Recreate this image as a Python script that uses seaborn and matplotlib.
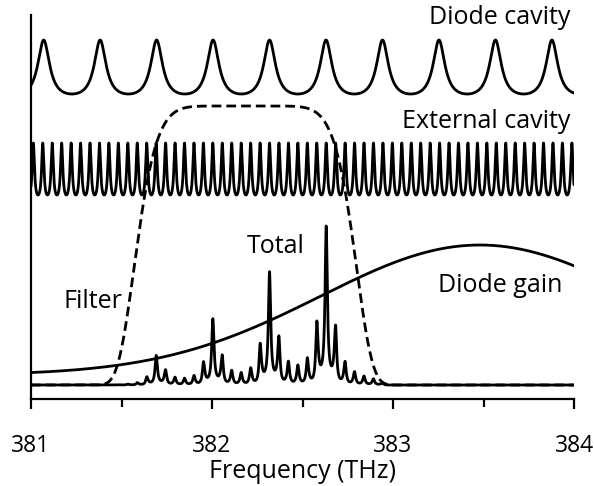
import numpy as np
import pandas as pd
import matplotlib
matplotlib.use("Agg")
import matplotlib.pyplot as plt
from matplotlib.ticker import MultipleLocator
import seaborn as sns

# ---------------- data ----------------
freq_range = [381.0, 384.0]
x_ticks = [381, 382, 383, 384]
x_label = "Frequency (THz)"

# Diode cavity (Airy transmission)
diode_first_peak = 381.07
diode_fsr = 0.312
diode_coef = 6.0

# External cavity (Airy transmission)
ext_first_peak = 381.065
ext_fsr = 0.0522
ext_coef = 4.5

# Filter (flat-top, super-Gaussian)
filter_center = 382.184
filter_halfwidth = 0.626
filter_order = 4

# Diode gain (Gaussian on a floor)
gain_center = 383.48
gain_sigma = 0.88

curve_labels = ["Diode cavity", "External cavity", "Filter", "Total", "Diode gain"]

# ---------------- layout (pixel-like vertical units) ----------------
diode_base, diode_span = 305, 54
ext_base, ext_span = 204, 52
filter_base, filter_span = 14, 279
gain_base, gain_span = 24, 130
total_base, total_span = 14, 159

freq = np.linspace(freq_range[0], freq_range[1], 8001)


def airy(x, first, fsr, coef):
    return 1.0 / (1.0 + coef * np.sin(np.pi * (x - first) / fsr) ** 2)


d = airy(freq, diode_first_peak, diode_fsr, diode_coef)
e = airy(freq, ext_first_peak, ext_fsr, ext_coef)
f = np.exp(-np.abs((freq - filter_center) / filter_halfwidth) ** (2 * filter_order))
g = np.exp(-((freq - gain_center) ** 2) / (2 * gain_sigma ** 2))
t = d * e * f * g

dmin = 1.0 / (1.0 + diode_coef)
emin = 1.0 / (1.0 + ext_coef)
df = pd.DataFrame({
    "freq": freq,
    "diode": diode_base + diode_span * (d - dmin) / (1 - dmin),
    "ext": ext_base + ext_span * (e - emin) / (1 - emin),
    "filter": filter_base + filter_span * f,
    "gain": gain_base + gain_span * g,
    "total": total_base + total_span * t / t.max(),
})

# ---------------- figure ----------------
sns.set_style("ticks")
plt.rcParams["font.family"] = ["Open Sans", "DejaVu Sans"]
plt.rcParams["text.color"] = "black"
plt.rcParams["axes.labelcolor"] = "black"

fig = plt.figure(figsize=(5.94, 4.86), dpi=100)
ax = fig.add_axes([31 / 594, 1 - 399 / 486, (574 - 31) / 594, (399 - 15) / 486])

lw = 2.0
for col in ["diode", "ext", "gain", "total"]:
    sns.lineplot(data=df, x="freq", y=col, ax=ax, color="black", lw=lw,
                 estimator=None, sort=False, errorbar=None)
sns.lineplot(data=df, x="freq", y="filter", ax=ax, color="black", lw=lw,
             linestyle=(0, (3.5, 1.8)), estimator=None, sort=False, errorbar=None)

ax.set_xlim(freq_range)
ax.set_ylim(0, 384)
ax.set_yticks([])
ax.set_ylabel("")
ax.set_xticks(x_ticks)
ax.set_xticklabels([str(v) for v in x_ticks])
ax.xaxis.set_minor_locator(MultipleLocator(0.5))
ax.tick_params(axis="x", which="major", direction="out", length=7.2, width=1.6,
               pad=18, labelsize=16.5, color="black", labelcolor="black")
ax.tick_params(axis="x", which="minor", direction="out", length=5.6, width=1.6,
               color="black")
ax.set_xlabel(x_label, fontsize=18, labelpad=1, color="black")
for s in ["top", "right"]:
    ax.spines[s].set_visible(False)
for s in ["left", "bottom"]:
    ax.spines[s].set_color("black")
    ax.spines[s].set_linewidth(1.6)

fs = 18
ax.text(383.978, 375, curve_labels[0], ha="right", va="baseline", fontsize=fs, color="black")
ax.text(383.978, 271, curve_labels[1], ha="right", va="baseline", fontsize=fs, color="black")
ax.text(381.177, 91, curve_labels[2], ha="left", va="baseline", fontsize=fs, color="black")
ax.text(382.193, 146, curve_labels[3], ha="left", va="baseline", fontsize=fs, color="black")
ax.text(383.934, 107, curve_labels[4], ha="right", va="baseline", fontsize=fs, color="black")

fig.savefig("out.png", dpi=100)
